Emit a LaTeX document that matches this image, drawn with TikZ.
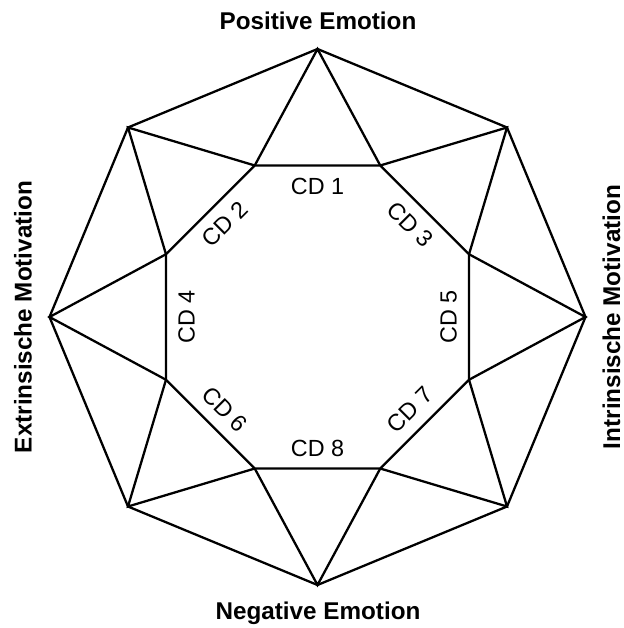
\documentclass[tikz,border=0pt]{standalone}
\usepackage{fontspec}
\setmainfont{Liberation Sans}
\begin{document}
\begin{tikzpicture}[
  edge/.style={line width=1.3pt, line join=miter},
  cdlabel/.style={font=\fontsize{13.3}{15}\selectfont},
  axislabel/.style={font=\fontsize{13.8}{16}\selectfont\bfseries}
]
\useasboundingbox (-6.35,-6.22) rectangle (6.11,6.34);

% Ecken
\foreach \k in {0,...,7}{
  \coordinate (o\k) at (90+45*\k:5.36);
  \coordinate (n\k) at (67.5+45*\k:3.28);
}

% Achteck aussen
\draw[edge] (o0) -- (o1) -- (o2) -- (o3) -- (o4) -- (o5) -- (o6) -- (o7) -- cycle;

% Achteck innen
\draw[edge] (n0) -- (n1) -- (n2) -- (n3) -- (n4) -- (n5) -- (n6) -- (n7) -- cycle;

% Zacken
\foreach \k in {0,...,7}{
  \pgfmathtruncatemacro\j{mod(\k+1,8)}
  \draw[edge] (n\k) -- (o\k) -- (n\j);
}

% CD
\foreach \n/\a/\r in {
1/90/0,
2/135/45,
3/45/-45,
4/180/90,
5/0/90,
6/225/-45,
7/315/45,
8/270/0
}
{
\node[cdlabel, rotate=\r] (cd\n) at (\a:2.62) {CD \n};
}

% Achsen
\node[axislabel] (pos) at (0.01,5.92) {Positive Emotion};
\node[axislabel] (neg) at (0.01,-5.92) {Negative Emotion};
\node[axislabel, rotate=90] (extr) at (-5.89,0) {Extrinsische Motivation};
\node[axislabel, rotate=90] (intr) at (5.88,0) {Intrinsische Motivation};

\end{tikzpicture}
\end{document}
